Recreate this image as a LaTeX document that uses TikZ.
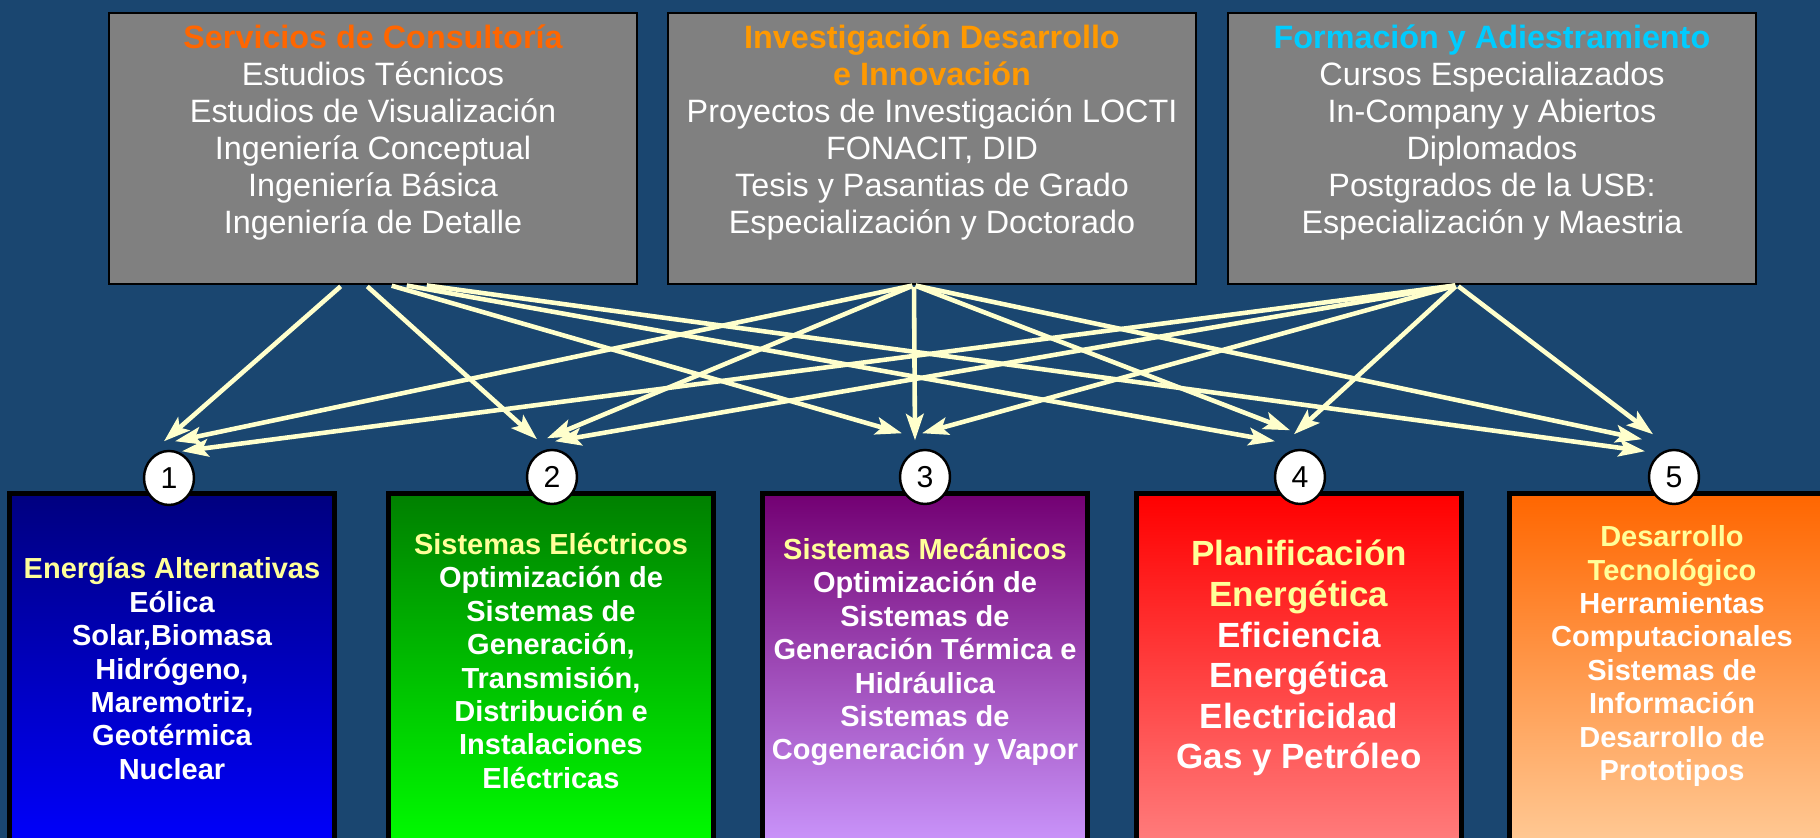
\documentclass[tikz,border=0pt]{standalone}
\usepackage{fontspec}
\setmainfont{Liberation Sans}
\usetikzlibrary{arrows.meta,shapes.geometric}

\definecolor{slidebg}{RGB}{26,70,112}
\definecolor{boxgray}{RGB}{128,128,128}
\definecolor{cream}{RGB}{255,255,204}
\definecolor{consorange}{RGB}{255,102,0}
\definecolor{idigold}{RGB}{255,153,0}
\definecolor{formcyan}{RGB}{0,204,255}
\definecolor{paleyellow}{RGB}{255,255,153}

\begin{document}
\begin{tikzpicture}[
    topbox/.style={draw=black, line width=0.7pt, fill=boxgray, minimum width=5.28cm, minimum height=2.71cm, inner sep=0pt},
    toptext/.style={anchor=north, align=center, text=white, inner sep=0pt, font=\fontsize{9.2}{10.5}\selectfont},
    area/.style={draw=black, line width=1.4pt, anchor=north, minimum width=3.25cm, minimum height=3.6cm, inner sep=0pt},
    areatext/.style={anchor=north, align=center, text=white, inner sep=0pt, font=\bfseries\fontsize{8.25}{9.5}\selectfont},
    num/.style={ellipse, draw=black, line width=0.7pt, fill=white, minimum width=0.5cm, minimum height=0.54cm, inner sep=0pt, font=\fontsize{8.6}{9}\selectfont},
    link/.style={draw=cream, line width=1.3pt, shorten <=0.5pt, -{Stealth[length=7.5pt, width=5pt, inset=1.6pt]}}
]
    \useasboundingbox (0,0) rectangle (18.2,8.38);
    \fill[slidebg] (0,0) rectangle (18.2,8.38);
    \clip (0,0) rectangle (18.2,8.38);

    % areas
    \node[area, top color=blue!50!black, bottom color=blue] at (1.72, 3.465) (alt) {};
    \node[area, top color=green!50!black, bottom color=green] at (5.51, 3.465) (elec) {};
    \node[area, top color=violet!90!black, bottom color={rgb,255:red,204;green,153;blue,255}] at (9.25, 3.465) (mec) {};
    \node[area, top color=red, bottom color={rgb,255:red,255;green,128;blue,128}] at (12.99, 3.465) (plan) {};
    \node[area, top color={rgb,255:red,255;green,102;blue,0}, bottom color={rgb,255:red,255;green,204;blue,153}] at (16.72, 3.465) (tec) {};

    \node[areatext] at ([yshift=-0.655cm]alt.north) (alttxt) {\textcolor{paleyellow}{Energías Alternativas}\\Eólica\\Solar,Biomasa\\Hidrógeno,\\Maremotriz,\\Geotérmica\\Nuclear};
    \node[areatext] at ([yshift=-0.41cm]elec.north) (electxt) {\textcolor{paleyellow}{Sistemas Eléctricos}\\Optimización de\\Sistemas de\\Generación,\\Transmisión,\\Distribución e\\Instalaciones\\Eléctricas};
    \node[areatext] at ([yshift=-0.46cm]mec.north) (mectxt) {\textcolor{paleyellow}{Sistemas Mecánicos}\\Optimización de\\Sistemas de\\Generación Térmica e\\Hidráulica\\Sistemas de\\Cogeneración y Vapor};
    \node[areatext, font=\bfseries\fontsize{9.95}{11.55}\selectfont] at ([yshift=-0.48cm]plan.north) (plantxt) {\textcolor{paleyellow}{Planificación}\\\textcolor{paleyellow}{Energética}\\Eficiencia\\Energética\\Electricidad\\Gas y Petróleo};
    \node[areatext] at ([yshift=-0.335cm]tec.north) (tectxt) {\textcolor{paleyellow}{Desarrollo}\\\textcolor{paleyellow}{Tecnológico}\\Herramientas\\Computacionales\\Sistemas de\\Información\\Desarrollo de\\Prototipos};

    % numbers
    \node[num] at (1.69, 3.60) (n1) {1};
    \node[num] at (5.52, 3.61) (n2) {2};
    \node[num] at (9.25, 3.61) (n3) {3};
    \node[num] at (13.00, 3.61) (n4) {4};
    \node[num] at (16.74, 3.61) (n5) {5};

    % services
    \node[topbox] at (3.73, 6.895) (cons) {};
    \node[topbox] at (9.32, 6.895) (idi) {};
    \node[topbox] at (14.92, 6.895) (form) {};

    \node[toptext] at ([yshift=-0.125cm]cons.north) (constxt) {\textcolor{consorange}{\bfseries Servicios de Consultoría}\\Estudios Técnicos\\Estudios de Visualización\\Ingeniería Conceptual\\Ingeniería Básica\\Ingeniería de Detalle};
    \node[toptext] at ([yshift=-0.125cm]idi.north) (iditxt) {\textcolor{idigold}{\bfseries Investigación Desarrollo}\\\textcolor{idigold}{\bfseries e Innovación}\\Proyectos de Investigación LOCTI\\FONACIT, DID\\Tesis y Pasantias de Grado\\Especialización y Doctorado};
    \node[toptext] at ([yshift=-0.125cm]form.north) (formtxt) {\textcolor{formcyan}{\bfseries Formación y Adiestramiento}\\Cursos Especialiazados\\In-Company y Abiertos\\Diplomados\\Postgrados de la USB:\\Especialización y Maestria};

    % links
    \foreach \c/\sx/\ex/\ey in {1/-0.31cm/-0.05cm/0.085cm, 2/-0.07cm/-0.15cm/0.095cm, 3/0.17cm/-0.23cm/0.155cm, 4/0.32cm/-0.25cm/0.075cm, 5/0.52cm/-0.29cm/-0.025cm}
        \draw[link] ([xshift=\sx]cons.south) -- ([xshift=\ex, yshift=\ey]n\c.north);
    \foreach \c/\ex/\ey in {1/0.06cm/0.085cm, 2/-0.05cm/0.105cm, 3/-0.10cm/0.085cm, 4/-0.10cm/0.185cm, 5/-0.32cm/0.095cm}
        \draw[link] ([xshift=-0.18cm]idi.south) -- ([xshift=\ex, yshift=\ey]n\c.north);
    \foreach \c/\ex/\ey in {1/0.13cm/-0.015cm, 2/0.03cm/0.075cm, 3/-0.03cm/0.155cm, 4/-0.06cm/0.145cm, 5/-0.21cm/0.145cm}
        \draw[link] ([xshift=-0.35cm]form.south) -- ([xshift=\ex, yshift=\ey]n\c.north);
\end{tikzpicture}
\end{document}
